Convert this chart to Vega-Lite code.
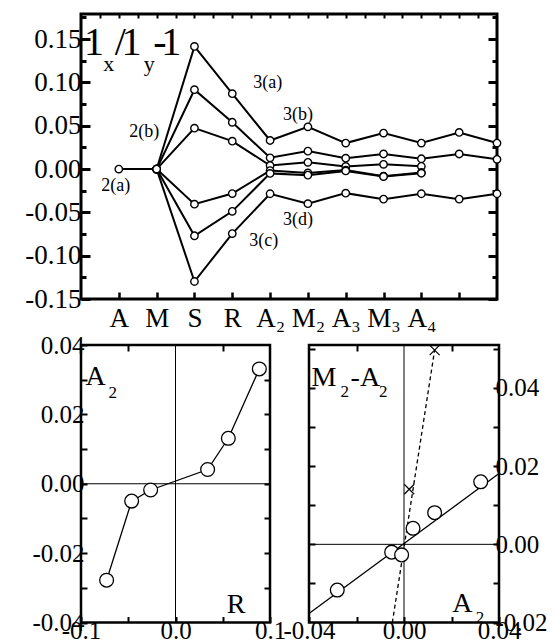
{
  "$schema": "https://vega.github.io/schema/vega-lite/v6.json",
  "background": "white",
  "padding": {"left": 23, "top": 11, "right": 0, "bottom": 0},
  "bounds": "flush",
  "spacing": 46,
  "config": {
    "font": "'Liberation Serif', 'Times New Roman', Times, 'DejaVu Serif', serif",
    "view": {"stroke": "black", "strokeWidth": 3},
    "axis": {"domain": false, "grid": false, "labelFont": "'Liberation Serif', 'Times New Roman', Times, 'DejaVu Serif', serif", "labelColor": "black", "tickColor": "black", "labelFlush": false, "labelOverlap": false, "labelBound": false},
    "text": {"font": "'Liberation Serif', 'Times New Roman', Times, 'DejaVu Serif', serif"}
  },
  "datasets": {
    "top": [
      {"s": "2a", "p": 1, "v": 0}, {"s": "2a", "p": 2, "v": 0},
      {"s": "s1", "p": 2, "v": 0}, {"s": "s1", "p": 3, "v": 0.1416}, {"s": "s1", "p": 4, "v": 0.087}, {"s": "s1", "p": 5, "v": 0.033}, {"s": "s1", "p": 6, "v": 0.0488}, {"s": "s1", "p": 7, "v": 0.030}, {"s": "s1", "p": 8, "v": 0.0415}, {"s": "s1", "p": 9, "v": 0.030}, {"s": "s1", "p": 10, "v": 0.0423}, {"s": "s1", "p": 11, "v": 0.030},
      {"s": "s2", "p": 2, "v": 0}, {"s": "s2", "p": 3, "v": 0.0916}, {"s": "s2", "p": 4, "v": 0.054}, {"s": "s2", "p": 5, "v": 0.013}, {"s": "s2", "p": 6, "v": 0.0207}, {"s": "s2", "p": 7, "v": 0.0126}, {"s": "s2", "p": 8, "v": 0.0174}, {"s": "s2", "p": 9, "v": 0.0119}, {"s": "s2", "p": 10, "v": 0.0174}, {"s": "s2", "p": 11, "v": 0.0112},
      {"s": "s3", "p": 2, "v": 0}, {"s": "s3", "p": 3, "v": 0.0472}, {"s": "s3", "p": 4, "v": 0.0322}, {"s": "s3", "p": 5, "v": 0.0041}, {"s": "s3", "p": 6, "v": 0.0078}, {"s": "s3", "p": 7, "v": 0.003}, {"s": "s3", "p": 8, "v": 0.0055}, {"s": "s3", "p": 9, "v": 0.0032},
      {"s": "s4", "p": 2, "v": 0}, {"s": "s4", "p": 3, "v": -0.0405}, {"s": "s4", "p": 4, "v": -0.0283}, {"s": "s4", "p": 5, "v": -0.0018}, {"s": "s4", "p": 6, "v": -0.0045}, {"s": "s4", "p": 7, "v": -0.0012}, {"s": "s4", "p": 8, "v": -0.0082}, {"s": "s4", "p": 9, "v": -0.004},
      {"s": "s5", "p": 2, "v": 0}, {"s": "s5", "p": 3, "v": -0.077}, {"s": "s5", "p": 4, "v": -0.0488}, {"s": "s5", "p": 5, "v": -0.005}, {"s": "s5", "p": 6, "v": -0.007}, {"s": "s5", "p": 7, "v": -0.0022}, {"s": "s5", "p": 8, "v": -0.0086}, {"s": "s5", "p": 9, "v": -0.0048},
      {"s": "s6", "p": 2, "v": 0}, {"s": "s6", "p": 3, "v": -0.1298}, {"s": "s6", "p": 4, "v": -0.0745}, {"s": "s6", "p": 5, "v": -0.0285}, {"s": "s6", "p": 6, "v": -0.040}, {"s": "s6", "p": 7, "v": -0.0278}, {"s": "s6", "p": 8, "v": -0.0347}, {"s": "s6", "p": 9, "v": -0.0285}, {"s": "s6", "p": 10, "v": -0.0347}, {"s": "s6", "p": 11, "v": -0.0285}
    ],
    "toplab": [
      {"p": 4.94, "v": 0.099, "t": "3(a)"},
      {"p": 5.74, "v": 0.0627, "t": "3(b)"},
      {"p": 1.67, "v": 0.0426, "t": "2(b)"},
      {"p": 0.92, "v": -0.019, "t": "2(a)"},
      {"p": 5.74, "v": -0.0585, "t": "3(d)"},
      {"p": 4.83, "v": -0.0836, "t": "3(c)"}
    ],
    "titlebig": [
      {"p": 0.077, "v": 0.132, "t": "1"},
      {"p": 0.894, "v": 0.132, "t": "/"},
      {"p": 1.07, "v": 0.132, "t": "1"},
      {"p": 1.91, "v": 0.132, "t": "-"},
      {"p": 2.12, "v": 0.132, "t": "1"}
    ],
    "titlesmall": [
      {"p": 0.587, "v": 0.1127, "t": "x"},
      {"p": 1.66, "v": 0.1127, "t": "y"}
    ],
    "left": [
      {"r": -0.0729, "a2": -0.0278},
      {"r": -0.0464, "a2": -0.005},
      {"r": -0.0263, "a2": -0.0018},
      {"r": 0.034, "a2": 0.0041},
      {"r": 0.0559, "a2": 0.0131},
      {"r": 0.0887, "a2": 0.0331}
    ],
    "leftbig": [
      {"r": -0.0952, "a2": 0.0285, "t": "A"},
      {"r": 0.0543, "a2": -0.0373, "t": "R"}
    ],
    "leftsmall": [
      {"r": -0.0709, "a2": 0.0247, "t": "2"}
    ],
    "right": [
      {"a2": -0.0281, "d": -0.0117},
      {"a2": -0.0052, "d": -0.002},
      {"a2": -0.001, "d": -0.0027},
      {"a2": 0.0038, "d": 0.0041},
      {"a2": 0.0129, "d": 0.0081},
      {"a2": 0.0323, "d": 0.016}
    ],
    "fit": [{"a2": -0.04, "d": -0.0177}, {"a2": 0.04, "d": 0.0181}],
    "dash": [{"a2": 0.0129, "d": 0.0497}, {"a2": -0.0049, "d": -0.02}],
    "cross": [{"a2": 0.0129, "d": 0.0497}, {"a2": 0.0022, "d": 0.0141}],
    "rightbig": [
      {"a2": -0.0389, "d": 0.0404, "t": "M"},
      {"a2": -0.0225, "d": 0.0404, "t": "-A"},
      {"a2": 0.0203, "d": -0.0172, "t": "A"}
    ],
    "rightsmall": [
      {"a2": -0.0267, "d": 0.0378, "t": "2"},
      {"a2": -0.0105, "d": 0.0378, "t": "2"},
      {"a2": 0.0302, "d": -0.020, "t": "2"}
    ],
    "zero": [{"z": 0}]
  },
  "vconcat": [
    {
      "width": 416,
      "height": 285,
      "view": {"stroke": "black", "strokeWidth": 3},
      "resolve": {"axis": {"x": "independent", "y": "independent"}},
      "layer": [
        {
          "data": {"name": "top"},
          "mark": {"type": "line", "color": "black", "strokeWidth": 2},
          "encoding": {
            "x": {"field": "p", "type": "quantitative", "scale": {"domain": [0, 11], "nice": false, "zero": false},
                  "axis": {"orient": "bottom", "title": null, "values": [1, 2, 3, 4, 5, 6, 7, 8, 9, 10], "tickSize": -7, "tickWidth": 2.5, "labelFontSize": 27, "labelPadding": 13,
                           "labelExpr": "['','A','M','S','R','A₂','M₂','A₃','M₃','A₄','',''][datum.value]"}},
            "y": {"field": "v", "type": "quantitative", "scale": {"domain": [-0.15, 0.179], "nice": false, "zero": false},
                  "axis": {"orient": "left", "title": null, "values": [-0.15, -0.1, -0.05, 0, 0.05, 0.1, 0.15], "tickSize": -9, "tickWidth": 3, "labelFontSize": 27, "labelPadding": 9,
                           "labelExpr": "replace(format(datum.value, '.2f'), '−', '-')"}},
            "detail": {"field": "s"}
          }
        },
        {
          "data": {"name": "top"},
          "mark": {"type": "point", "shape": "circle", "filled": true, "fill": "white", "stroke": "black", "strokeWidth": 1.4, "size": 55, "opacity": 1},
          "encoding": {
            "x": {"field": "p", "type": "quantitative", "scale": {"domain": [0, 11], "nice": false, "zero": false},
                  "axis": {"orient": "top", "title": null, "values": [0.5, 1, 1.5, 2, 2.5, 3, 3.5, 4, 4.5, 5, 5.5, 6, 6.5, 7, 7.5, 8, 8.5, 9, 9.5, 10, 10.5], "tickSize": -4, "tickWidth": 2, "labels": false}},
            "y": {"field": "v", "type": "quantitative", "scale": {"domain": [-0.15, 0.179], "nice": false, "zero": false},
                  "axis": {"orient": "left", "title": null, "values": [-0.125, -0.075, -0.025, 0.025, 0.075, 0.125, 0.175], "tickSize": -5, "tickWidth": 3, "labels": false}}
          }
        },
        {
          "data": {"name": "toplab"},
          "mark": {"type": "text", "fontSize": 18, "color": "black", "align": "center", "baseline": "middle"},
          "encoding": {
            "x": {"field": "p", "type": "quantitative", "scale": {"domain": [0, 11], "nice": false, "zero": false}, "axis": null},
            "y": {"field": "v", "type": "quantitative", "scale": {"domain": [-0.15, 0.179], "nice": false, "zero": false},
                  "axis": {"orient": "right", "title": null, "values": [-0.15, -0.1, -0.05, 0, 0.05, 0.1, 0.15], "tickSize": -9, "tickWidth": 3, "labels": false}},
            "text": {"field": "t"}
          }
        },
        {
          "data": {"name": "titlebig"},
          "mark": {"type": "text", "fontSize": 40, "color": "black", "align": "left", "baseline": "alphabetic"},
          "encoding": {
            "x": {"field": "p", "type": "quantitative", "scale": {"domain": [0, 11], "nice": false, "zero": false}, "axis": null},
            "y": {"field": "v", "type": "quantitative", "scale": {"domain": [-0.15, 0.179], "nice": false, "zero": false},
                  "axis": {"orient": "right", "title": null, "values": [-0.125, -0.075, -0.025, 0.025, 0.075, 0.125, 0.175], "tickSize": -5, "tickWidth": 3, "labels": false}},
            "text": {"field": "t"}
          }
        },
        {
          "data": {"name": "titlesmall"},
          "mark": {"type": "text", "fontSize": 22, "color": "black", "align": "left", "baseline": "alphabetic"},
          "encoding": {
            "x": {"field": "p", "type": "quantitative", "scale": {"domain": [0, 11], "nice": false, "zero": false}, "axis": null},
            "y": {"field": "v", "type": "quantitative", "scale": {"domain": [-0.15, 0.179], "nice": false, "zero": false}, "axis": null},
            "text": {"field": "t"}
          }
        }
      ]
    },
    {
      "bounds": "flush",
      "spacing": 39,
      "hconcat": [
        {
          "width": 189,
          "height": 277.5,
          "view": {"stroke": "black", "strokeWidth": 2.5},
          "resolve": {"axis": {"x": "independent", "y": "independent"}},
          "layer": [
            {
              "data": {"name": "zero"},
              "mark": {"type": "rule", "color": "black", "strokeWidth": 1},
              "encoding": {"x": {"field": "z", "type": "quantitative", "scale": {"domain": [-0.1, 0.1], "nice": false, "zero": false}, "axis": null}}
            },
            {
              "data": {"name": "zero"},
              "mark": {"type": "rule", "color": "black", "strokeWidth": 1},
              "encoding": {"y": {"field": "z", "type": "quantitative", "scale": {"domain": [-0.04, 0.04], "nice": false, "zero": false}, "axis": null}}
            },
            {
              "data": {"name": "left"},
              "mark": {"type": "line", "color": "black", "strokeWidth": 1.3},
              "encoding": {
                "x": {"field": "r", "type": "quantitative", "scale": {"domain": [-0.1, 0.1], "nice": false, "zero": false},
                      "axis": {"orient": "bottom", "title": null, "values": [-0.1, -0.05, 0, 0.05, 0.1], "tickSize": -6, "tickWidth": 2, "labelFontSize": 25, "labelPadding": 2,
                               "labelExpr": "abs(datum.value*10 - round(datum.value*10)) < 0.001 ? replace(format(datum.value, '.1f'), '−', '-') : ''"}},
                "y": {"field": "a2", "type": "quantitative", "scale": {"domain": [-0.04, 0.04], "nice": false, "zero": false},
                      "axis": {"orient": "left", "title": null, "values": [-0.04, -0.03, -0.02, -0.01, 0, 0.01, 0.02, 0.03, 0.04], "tickSize": -6, "tickWidth": 2, "labelFontSize": 25, "labelPadding": 3,
                               "labelExpr": "abs(datum.value*50 - round(datum.value*50)) < 0.001 ? replace(format(datum.value, '.2f'), '−', '-') : ''"}}
              }
            },
            {
              "data": {"name": "left"},
              "mark": {"type": "point", "shape": "circle", "filled": true, "fill": "white", "stroke": "black", "strokeWidth": 1.3, "size": 190, "opacity": 1},
              "encoding": {
                "x": {"field": "r", "type": "quantitative", "scale": {"domain": [-0.1, 0.1], "nice": false, "zero": false},
                      "axis": {"orient": "top", "title": null, "values": [-0.05, 0.05], "tickSize": -6, "tickWidth": 2, "labels": false}},
                "y": {"field": "a2", "type": "quantitative", "scale": {"domain": [-0.04, 0.04], "nice": false, "zero": false},
                      "axis": {"orient": "right", "title": null, "values": [-0.03, -0.02, -0.01, 0, 0.01, 0.02, 0.03], "tickSize": -6, "tickWidth": 2, "labels": false}}
              }
            },
            {
              "data": {"name": "leftbig"},
              "mark": {"type": "text", "fontSize": 28, "color": "black", "align": "left", "baseline": "alphabetic"},
              "encoding": {
                "x": {"field": "r", "type": "quantitative", "scale": {"domain": [-0.1, 0.1], "nice": false, "zero": false}, "axis": null},
                "y": {"field": "a2", "type": "quantitative", "scale": {"domain": [-0.04, 0.04], "nice": false, "zero": false}, "axis": null},
                "text": {"field": "t"}
              }
            },
            {
              "data": {"name": "leftsmall"},
              "mark": {"type": "text", "fontSize": 17, "color": "black", "align": "left", "baseline": "alphabetic"},
              "encoding": {
                "x": {"field": "r", "type": "quantitative", "scale": {"domain": [-0.1, 0.1], "nice": false, "zero": false}, "axis": null},
                "y": {"field": "a2", "type": "quantitative", "scale": {"domain": [-0.04, 0.04], "nice": false, "zero": false}, "axis": null},
                "text": {"field": "t"}
              }
            }
          ]
        },
        {
          "width": 190,
          "height": 277.5,
          "view": {"stroke": "black", "strokeWidth": 2.5},
          "resolve": {"axis": {"x": "independent", "y": "independent"}},
          "layer": [
            {
              "data": {"name": "zero"},
              "mark": {"type": "rule", "color": "black", "strokeWidth": 1},
              "encoding": {"x": {"field": "z", "type": "quantitative", "scale": {"domain": [-0.04, 0.04], "nice": false, "zero": false}, "axis": null}}
            },
            {
              "data": {"name": "zero"},
              "mark": {"type": "rule", "color": "black", "strokeWidth": 1},
              "encoding": {"y": {"field": "z", "type": "quantitative", "scale": {"domain": [-0.02, 0.051], "nice": false, "zero": false}, "axis": null}}
            },
            {
              "data": {"name": "fit"},
              "mark": {"type": "line", "color": "black", "strokeWidth": 1.3},
              "encoding": {
                "x": {"field": "a2", "type": "quantitative", "scale": {"domain": [-0.04, 0.04], "nice": false, "zero": false},
                      "axis": {"orient": "bottom", "title": null, "values": [-0.04, -0.02, 0, 0.02, 0.04], "tickSize": -6, "tickWidth": 2, "labelFontSize": 25, "labelPadding": 2,
                               "labelExpr": "abs(datum.value*25 - round(datum.value*25)) < 0.001 ? replace(format(datum.value, '.2f'), '−', '-') : ''"}},
                "y": {"field": "d", "type": "quantitative", "scale": {"domain": [-0.02, 0.051], "nice": false, "zero": false},
                      "axis": {"orient": "right", "title": null, "values": [-0.02, -0.01, 0, 0.01, 0.02, 0.03, 0.04, 0.05], "tickSize": -6, "tickWidth": 2, "labelFontSize": 25, "labelPadding": 2,
                               "labelExpr": "abs(datum.value*50 - round(datum.value*50)) < 0.001 ? replace(format(datum.value, '.2f'), '−', '-') : ''"}}
              }
            },
            {
              "data": {"name": "dash"},
              "mark": {"type": "line", "color": "black", "strokeWidth": 1.3, "strokeDash": [4, 3]},
              "encoding": {
                "x": {"field": "a2", "type": "quantitative", "scale": {"domain": [-0.04, 0.04], "nice": false, "zero": false},
                      "axis": {"orient": "top", "title": null, "values": [-0.02, 0.02], "tickSize": -6, "tickWidth": 2, "labels": false}},
                "y": {"field": "d", "type": "quantitative", "scale": {"domain": [-0.02, 0.051], "nice": false, "zero": false},
                      "axis": {"orient": "left", "title": null, "values": [-0.01, 0, 0.01, 0.02, 0.03, 0.04, 0.05], "tickSize": -6, "tickWidth": 2, "labels": false}}
              }
            },
            {
              "data": {"name": "right"},
              "mark": {"type": "point", "shape": "circle", "filled": true, "fill": "white", "stroke": "black", "strokeWidth": 1.3, "size": 190, "opacity": 1},
              "encoding": {
                "x": {"field": "a2", "type": "quantitative", "scale": {"domain": [-0.04, 0.04], "nice": false, "zero": false}, "axis": null},
                "y": {"field": "d", "type": "quantitative", "scale": {"domain": [-0.02, 0.051], "nice": false, "zero": false}, "axis": null}
              }
            },
            {
              "data": {"name": "cross"},
              "mark": {"type": "point", "shape": "M-1,-1L1,1M-1,1L1,-1", "filled": false, "stroke": "black", "strokeWidth": 1.2, "size": 100, "opacity": 1},
              "encoding": {
                "x": {"field": "a2", "type": "quantitative", "scale": {"domain": [-0.04, 0.04], "nice": false, "zero": false}, "axis": null},
                "y": {"field": "d", "type": "quantitative", "scale": {"domain": [-0.02, 0.051], "nice": false, "zero": false}, "axis": null}
              }
            },
            {
              "data": {"name": "rightbig"},
              "mark": {"type": "text", "fontSize": 28, "color": "black", "align": "left", "baseline": "alphabetic"},
              "encoding": {
                "x": {"field": "a2", "type": "quantitative", "scale": {"domain": [-0.04, 0.04], "nice": false, "zero": false}, "axis": null},
                "y": {"field": "d", "type": "quantitative", "scale": {"domain": [-0.02, 0.051], "nice": false, "zero": false}, "axis": null},
                "text": {"field": "t"}
              }
            },
            {
              "data": {"name": "rightsmall"},
              "mark": {"type": "text", "fontSize": 17, "color": "black", "align": "left", "baseline": "alphabetic"},
              "encoding": {
                "x": {"field": "a2", "type": "quantitative", "scale": {"domain": [-0.04, 0.04], "nice": false, "zero": false}, "axis": null},
                "y": {"field": "d", "type": "quantitative", "scale": {"domain": [-0.02, 0.051], "nice": false, "zero": false}, "axis": null},
                "text": {"field": "t"}
              }
            }
          ]
        }
      ]
    }
  ]
}
